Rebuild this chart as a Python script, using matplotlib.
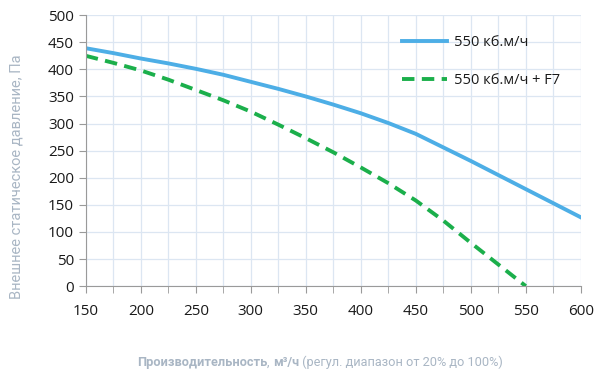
import matplotlib
matplotlib.use("Agg")
import matplotlib.pyplot as plt
from matplotlib.ticker import MultipleLocator

flow = [150, 175, 200, 225, 250, 275, 300, 325, 350, 375, 400, 425, 450,
        475, 500, 525, 550, 575, 600]
pressure_550 = [439, 430, 420, 411, 401, 390, 377, 364, 350, 335, 319, 301,
                281, 256, 231, 205, 179, 153, 127]
flow_f7 = [150, 175, 200, 225, 250, 275, 300, 325, 350, 375, 400, 425, 450,
           475, 500, 525, 550]
pressure_f7 = [425, 412, 398, 381, 362, 343, 322, 298, 273, 247, 219, 190,
               158, 121, 80, 40, 0]

series_labels = ["550 кб.м/ч", "550 кб.м/ч + F7"]
y_label = "Внешнее статическое давление, Па"
x_label_parts = [("Производительность", "bold"), (", ", "normal"),
                 ("м³/ч", "bold"), (" (регул. диапазон от 20% до 100%)", "normal")]

plt.rcParams["font.family"] = ["Open Sans", "DejaVu Sans"]

fig = plt.figure(figsize=(6, 3.79), dpi=100)
ax = fig.add_axes([0.143, 0.245, 0.825, 0.715])

ax.plot(flow, pressure_550, color="#4DAEE6", lw=2.8, label=series_labels[0])
ax.plot(flow_f7, pressure_f7, color="#1BAF4B", lw=2.8, ls=(0, (3.2, 1.9)),
        label=series_labels[1])

ax.set_xlim(150, 600)
ax.set_ylim(0, 500)
ax.xaxis.set_major_locator(MultipleLocator(50))
ax.xaxis.set_minor_locator(MultipleLocator(25))
ax.yaxis.set_major_locator(MultipleLocator(50))
ax.grid(True, which="both", axis="x", color="#DCE6F2", lw=0.9)
ax.grid(True, which="major", axis="y", color="#DCE6F2", lw=0.9)
ax.set_axisbelow(True)

for s in ["top", "right"]:
    ax.spines[s].set_visible(False)
for s in ["left", "bottom"]:
    ax.spines[s].set_color("#9A9A9A")
ax.tick_params(axis="both", which="both", color="#9A9A9A", length=5,
               direction="out", labelsize=11, labelcolor="#1A1A1A")
ax.tick_params(axis="x", which="major", pad=8)
ax.tick_params(axis="x", which="minor", length=5)

ax.set_ylabel(y_label, fontsize=10.5, color="#A9B6C4",
              family=["Roboto", "DejaVu Sans"])
ax.yaxis.set_label_coords(-0.126, 0.405)

leg = ax.legend(loc="upper right", frameon=False, fontsize=10.5,
                handlelength=3.1, handletextpad=0.5, labelspacing=1.6,
                bbox_to_anchor=(0.985, 0.975))
for t in leg.get_texts():
    t.set_color("#1A1A1A")

# mixed-weight x label, drawn piece by piece
fig.canvas.draw()
renderer = fig.canvas.get_renderer()
pieces = []
total = 0
for txt, w in x_label_parts:
    t = fig.text(0, 0.035, txt, fontsize=9.2, fontweight=w, color="#A9B6C4",
                 family=["Roboto", "DejaVu Sans"], va="baseline")
    bb = t.get_window_extent(renderer)
    pieces.append((t, bb.width))
    total += bb.width
x0 = 320 - total / 2
for t, wd in pieces:
    t.set_x(x0 / fig.bbox.width)
    x0 += wd

fig.savefig("out.png", dpi=100)
